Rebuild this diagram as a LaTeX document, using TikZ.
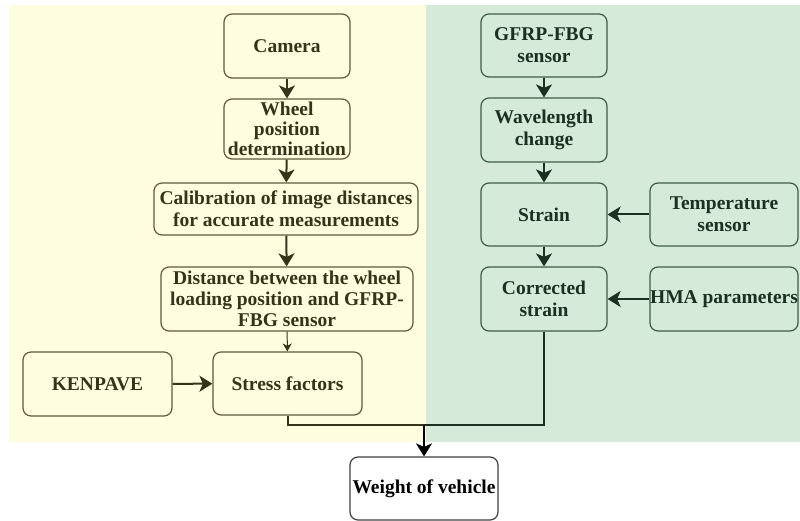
\documentclass[tikz,border=0pt]{standalone}
\usepackage{fontspec}
\setmainfont{Liberation Serif}
\usetikzlibrary{arrows.meta}
\definecolor{bgyellow}{HTML}{FEFDE0}
\definecolor{bggreen}{HTML}{D6EADA}
\definecolor{lineyellow}{HTML}{5E5B3C}
\definecolor{txtyellow}{HTML}{35331A}
\definecolor{linegreen}{HTML}{3E5C44}
\definecolor{txtgreen}{HTML}{1B3020}
\tikzset{
  ybox/.style={draw=lineyellow, fill=bgyellow, text=txtyellow, rounded corners=8pt,
    align=center, inner sep=0pt, line width=1.2pt},
  gbox/.style={draw=linegreen, fill=bggreen, text=txtgreen, rounded corners=8pt,
    align=center, inner sep=0pt, line width=1.2pt},
  wbox/.style={draw=black!75, fill=white, text=black, rounded corners=8pt,
    align=center, inner sep=0pt, line width=1.2pt},
  flow/.style={-{Stealth[length=13pt,width=16pt,inset=3.5pt]}, line width=2pt},
  thinflow/.style={-{Stealth[length=8pt,width=9pt,inset=2.5pt]}, line width=1pt}
}
\begin{document}
\begin{tikzpicture}[x=1pt, y=-1pt,
    font=\fontsize{19.5}{22}\selectfont\bfseries]
        \useasboundingbox (0,0) rectangle (800,521);
        \fill[bgyellow] (9,5) rectangle (426,442);
        \fill[bggreen] (426,5) rectangle (800,442);

        \node[ybox, minimum width=126, minimum height=64]
        (cam) at (287,46) {Camera};
        \node[ybox, minimum width=126, minimum height=60,
          font=\fontsize{19.5}{20}\selectfont\bfseries]
        (wheel) at (287,129) {Wheel\\position\\determination};
        \node[ybox, minimum width=264, minimum height=52]
        (calib) at (286,209) {Calibration of image distances\\for accurate measurements};
        \node[ybox, minimum width=252, minimum height=64,
          font=\fontsize{19.5}{21}\selectfont\bfseries]
        (dist) at (287,299) {Distance between the wheel\\loading position and GFRP-\\FBG sensor};
        \node[ybox, minimum width=149, minimum height=63]
        (stress) at (287.5,383.5) {Stress factors};
        \node[ybox, minimum width=149, minimum height=64]
        (kenpave) at (97.5,384) {KENPAVE};

        \node[gbox, minimum width=126, minimum height=63]
        (gfrp) at (544,45.5) {GFRP-FBG\\sensor};
        \node[gbox, minimum width=126, minimum height=64]
        (wave) at (544,130) {Wavelength\\change};
        \node[gbox, minimum width=126, minimum height=63]
        (strain) at (544,214.5) {Strain};
        \node[gbox, minimum width=148, minimum height=63]
        (temp) at (724,214.5) {Temperature\\sensor};
        \node[gbox, minimum width=126, minimum height=64]
        (corr) at (544,299) {Corrected\\strain};
        \node[gbox, minimum width=148, minimum height=64]
        (hma) at (724,299) {HMA parameters};

        \node[wbox, minimum width=148, minimum height=63]
        (weight) at (424,488.5) {Weight of vehicle};

        \draw[flow, txtyellow] (cam) -- (wheel);
        \draw[flow, txtyellow] (wheel) -- (calib);
        \draw[flow, txtyellow] (calib) -- (dist);
        \draw[thinflow, txtyellow] (dist) -- (stress);
        \draw[flow, txtyellow] (kenpave) -- (stress);

        \draw[flow, txtgreen] (gfrp) -- (wave);
        \draw[flow, txtgreen] (wave) -- (strain);
        \draw[flow, txtgreen] (temp) -- (strain);
        \draw[flow, txtgreen] (strain) -- (corr);
        \draw[flow, txtgreen] (hma) -- (corr);

        \coordinate (join) at (424,425);
        \draw[line width=2pt, txtyellow] (stress.south) |- (join);
        \draw[line width=2pt, txtgreen] (corr.south) |- (join);
        \draw[flow, black] (join) -- (weight.north);
    \end{tikzpicture}
\end{document}
